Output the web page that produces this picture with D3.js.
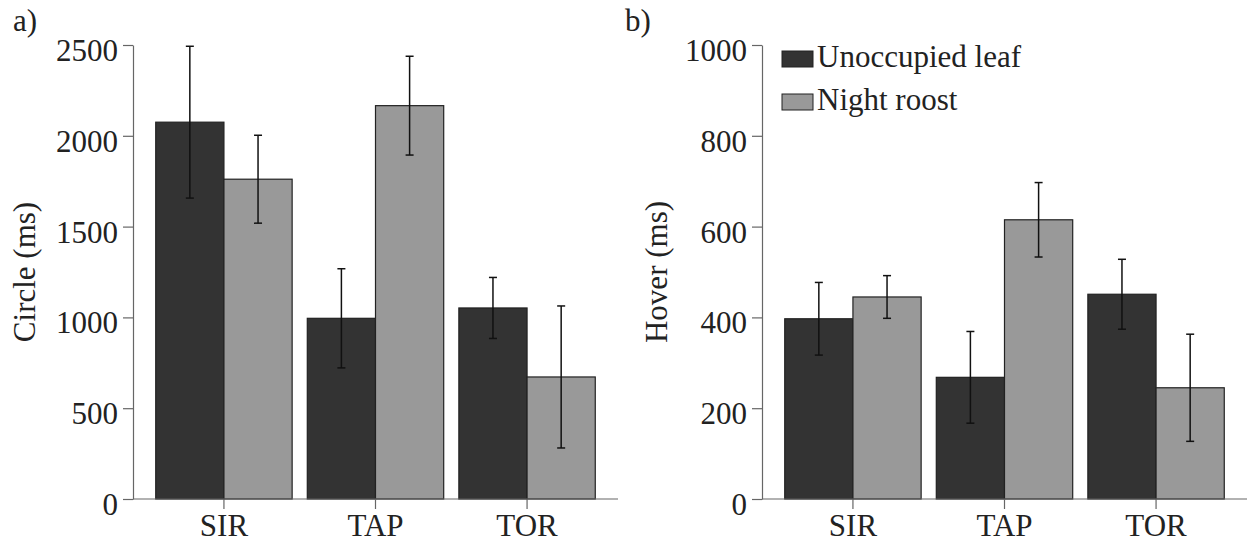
<!DOCTYPE html>
<html>
<head>
<meta charset="utf-8">
<script src="https://cdn.jsdelivr.net/npm/d3@7"></script>
<style>
  body { margin: 0; background: #fff; }
  svg { display: block; font-family: "Liberation Serif", "Times New Roman", serif; }
  .axis path, .axis line { stroke: #666; stroke-width: 1.2; }
  .axis text { font-size: 31px; fill: #222; font-family: "Liberation Serif", "Times New Roman", serif; }
</style>
</head>
<body>
<svg id="chart" width="1248" height="543"></svg>
<script>
const sites = ['SIR', 'TAP', 'TOR']
const groups = ['Unoccupied leaf', 'Night roost']

// panel a) circle duration
const circleLeaf = [2075, 995, 1052]
const circleLeafErr = [418, 273, 168]
const circleRoost = [1761, 2166, 672]
const circleRoostErr = [242, 272, 391]
const circleTicks = [0, 500, 1000, 1500, 2000, 2500]

// panel b) hover duration
const hoverLeaf = [397, 268, 451]
const hoverLeafErr = [80, 101, 77]
const hoverRoost = [445, 615, 245]
const hoverRoostErr = [47, 82, 118]
const hoverTicks = [0, 200, 400, 600, 800, 1000]

const colors = ['#333333', '#999999']

const svg = d3.select('#chart')

const drawPanel = (opt) => {
  const g = svg.append('g')

  const x = d3.scaleBand()
    .domain(sites)
    .range([opt.left, opt.left + 485])
    .paddingInner(0.1)
    .paddingOuter(0.15)

  const xSub = d3.scaleBand()
    .domain(groups)
    .range([0, x.bandwidth()])

  const y = d3.scaleLinear()
    .domain([0, opt.max])
    .range([499, 45])

  const rows = sites.map((s, i) => ({
    site: s,
    vals: [
      { grp: groups[0], v: opt.leaf[i], e: opt.leafErr[i] },
      { grp: groups[1], v: opt.roost[i], e: opt.roostErr[i] }
    ]
  }))

  const site = g.selectAll('.site')
    .data(rows)
    .enter()
    .append('g')
    .attr('transform', d => 'translate(' + x(d.site) + ',0)')

  site.selectAll('rect')
    .data(d => d.vals)
    .enter()
    .append('rect')
    .attr('x', d => xSub(d.grp))
    .attr('width', xSub.bandwidth())
    .attr('y', d => y(d.v))
    .attr('height', d => y(0) - y(d.v))
    .attr('fill', (d, i) => colors[i])
    .attr('stroke', '#222')
    .attr('stroke-width', 1.2)

  // error bars
  const eb = site.selectAll('.eb')
    .data(d => d.vals)
    .enter()
    .append('g')
    .attr('stroke', '#111')
    .attr('stroke-width', 1.5)
  const cx = d => xSub(d.grp) + xSub.bandwidth() / 2
  eb.append('line')
    .attr('x1', cx).attr('x2', cx)
    .attr('y1', d => y(d.v + d.e)).attr('y2', d => y(d.v - d.e))
  eb.append('line')
    .attr('x1', d => cx(d) - 4).attr('x2', d => cx(d) + 4)
    .attr('y1', d => y(d.v + d.e)).attr('y2', d => y(d.v + d.e))
  eb.append('line')
    .attr('x1', d => cx(d) - 4).attr('x2', d => cx(d) + 4)
    .attr('y1', d => y(d.v - d.e)).attr('y2', d => y(d.v - d.e))

  // axes
  const yAxis = g.append('g')
    .attr('class', 'axis')
    .attr('transform', 'translate(' + opt.left + ',0)')
    .call(d3.axisLeft(y).tickValues(opt.ticks).tickFormat(d3.format('d'))
      .tickSize(10).tickSizeOuter(0).tickPadding(5))
  yAxis.selectAll('text').attr('dy', '0.5em')

  const xAxis = g.append('g')
    .attr('class', 'axis')
    .attr('transform', 'translate(0,499)')
    .call(d3.axisBottom(x).tickSize(10).tickSizeOuter(0))
  xAxis.select('.domain').attr('d', 'M' + opt.left + ',0H' + (opt.left + 485))
  xAxis.selectAll('text').attr('y', 15).attr('dy', '0.71em')

  // axis title
  g.append('text')
    .attr('transform', 'translate(' + opt.titleX + ',' + ((y(0) + y(opt.max)) / 2) + ') rotate(-90)')
    .attr('text-anchor', 'middle')
    .attr('font-size', 31)
    .attr('fill', '#222')
    .text(opt.title)

  g.append('text')
    .attr('x', opt.tagX)
    .attr('y', 31)
    .attr('font-size', 31)
    .attr('fill', '#222')
    .text(opt.tag)
}

drawPanel({
  left: 133, max: 2500, ticks: circleTicks,
  leaf: circleLeaf, leafErr: circleLeafErr, roost: circleRoost, roostErr: circleRoostErr,
  title: 'Circle (ms)', titleX: 35, tag: 'a)', tagX: 13
})

drawPanel({
  left: 762, max: 1000, ticks: hoverTicks,
  leaf: hoverLeaf, leafErr: hoverLeafErr, roost: hoverRoost, roostErr: hoverRoostErr,
  title: 'Hover (ms)', titleX: 667, tag: 'b)', tagX: 625
})

// legend
const leg = svg.append('g').attr('transform', 'translate(782,51)')
const item = leg.selectAll('g')
  .data(groups)
  .enter()
  .append('g')
  .attr('transform', (d, i) => 'translate(0,' + i * 43 + ')')
item.append('rect')
  .attr('width', 31)
  .attr('height', 16)
  .attr('fill', (d, i) => colors[i])
  .attr('stroke', '#222')
  .attr('stroke-width', 1)
item.append('text')
  .attr('x', 35)
  .attr('y', 16)
  .attr('font-size', 31)
  .attr('fill', '#222')
  .text(d => d)
</script>
</body>
</html>
